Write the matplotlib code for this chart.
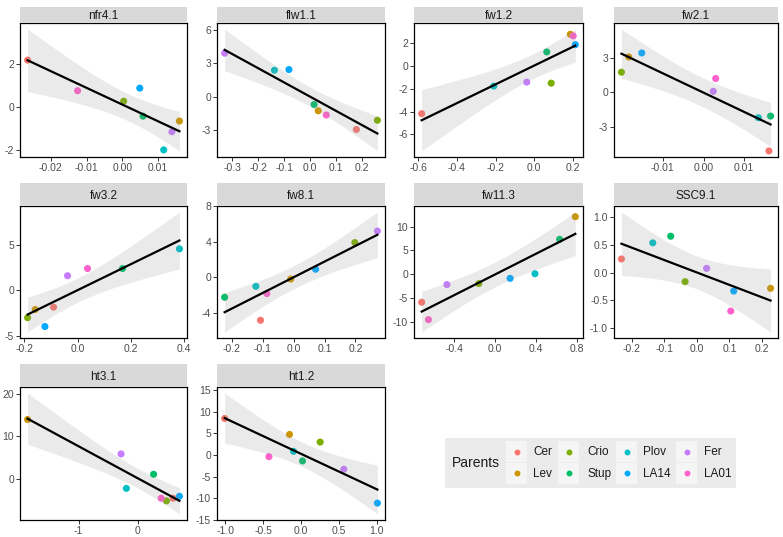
import numpy as np
import matplotlib
matplotlib.use('Agg')
import matplotlib.pyplot as plt

plt.rcParams['font.family'] = ['Liberation Sans', 'DejaVu Sans']

# ---------------------------------------------------------------- data
parents = ['Cer', 'Lev', 'Crio', 'Stup', 'Plov', 'LA14', 'Fer', 'LA01']
colors = ['#F8766D', '#CD9600', '#7CAE00', '#00BE67',
          '#00BFC4', '#00A9FF', '#C77CFF', '#FF61CC']

# values in the order of `parents`
nfr41_x = [-0.0265, 0.0160, 0.0004, 0.0058, 0.0116, 0.0049, 0.0139, -0.0125]
nfr41_y = [2.20, -0.65, 0.28, -0.42, -2.00, 0.89, -1.15, 0.77]

flw11_x = [0.178, 0.031, 0.259, 0.015, -0.138, -0.082, -0.330, 0.062]
flw11_y = [-2.95, -1.27, -2.12, -0.71, 2.36, 2.42, 3.89, -1.65]

fw12_x = [-0.583, 0.188, 0.089, 0.066, -0.209, 0.214, -0.038, 0.203]
fw12_y = [-4.18, 2.79, -1.50, 1.24, -1.76, 1.88, -1.41, 2.65]

fw21_x = [0.0161, -0.0184, -0.0202, 0.0165, 0.0135, -0.0152, 0.0024, 0.0030]
fw21_y = [-5.10, 3.10, 1.77, -2.06, -2.20, 3.45, 0.10, 1.22]

fw32_x = [-0.090, -0.159, -0.1875, 0.169, 0.3825, -0.1225, -0.0375, 0.0375]
fw32_y = [-1.85, -2.11, -3.02, 2.44, 4.62, -4.00, 1.64, 2.44]

fw81_x = [-0.1075, -0.0097, 0.198, -0.2237, -0.1226, 0.071, 0.271, -0.087]
fw81_y = [-4.87, -0.22, 3.90, -2.27, -1.04, 0.89, 5.20, -1.86]

fw113_x = [-0.717, 0.786, -0.158, 0.632, 0.391, 0.148, -0.470, -0.651]
fw113_y = [-5.82, 12.05, -1.92, 7.33, 0.14, -0.82, -2.12, -9.45]

ssc91_x = [-0.231, 0.226, -0.036, -0.080, -0.135, 0.113, 0.030, 0.104]
ssc91_y = [0.25, -0.28, -0.16, 0.66, 0.54, -0.33, 0.08, -0.69]

ht31_x = [0.601, -1.865, 0.489, 0.270, -0.191, 0.708, -0.281, 0.399]
ht31_y = [-4.67, 14.00, -5.29, 1.01, -2.33, -4.20, 5.84, -4.67]

ht12_x = [-1.011, -0.154, 0.251, 0.018, -0.101, 1.007, 0.563, -0.426]
ht12_y = [8.42, 4.74, 2.98, -1.38, 0.84, -11.10, -3.29, -0.38]

# name, x, y, x ticks, x decimals, y ticks, y decimals
panels = [
    ('nfr4.1', nfr41_x, nfr41_y, [-0.02, -0.01, 0.0, 0.01], 2, [-2, 0, 2], 0),
    ('flw1.1', flw11_x, flw11_y, [-0.3, -0.2, -0.1, 0.0, 0.1, 0.2], 1, [-3, 0, 3, 6], 0),
    ('fw1.2', fw12_x, fw12_y, [-0.6, -0.4, -0.2, 0.0, 0.2], 1, [-6, -4, -2, 0, 2], 0),
    ('fw2.1', fw21_x, fw21_y, [-0.01, 0.0, 0.01], 2, [-3, 0, 3], 0),
    ('fw3.2', fw32_x, fw32_y, [-0.2, 0.0, 0.2, 0.4], 1, [-5, 0, 5], 0),
    ('fw8.1', fw81_x, fw81_y, [-0.2, -0.1, 0.0, 0.1, 0.2], 1, [-4, 0, 4, 8], 0),
    ('fw11.3', fw113_x, fw113_y, [-0.4, 0.0, 0.4, 0.8], 1, [-10, -5, 0, 5, 10], 0),
    ('SSC9.1', ssc91_x, ssc91_y, [-0.2, -0.1, 0.0, 0.1, 0.2], 1, [-1.0, -0.5, 0.0, 0.5, 1.0], 1),
    ('ht3.1', ht31_x, ht31_y, [-1, 0], 0, [0, 10, 20], 0),
    ('ht1.2', ht12_x, ht12_y, [-1.0, -0.5, 0.0, 0.5, 1.0], 1, [-15, -10, -5, 0, 5, 10, 15], 0),
]

# ---------------------------------------------------------------- layout (pixels)
W, H = 783, 537
col_x = [(20, 187), (217, 385), (414, 583), (614, 778)]
row_y = [(23, 157), (206, 338), (387, 520)]
strip_h = [16, 23, 23]

T975 = 2.4469  # t quantile, df = 6


def fmt(v, d):
    s = '{:.{}f}'.format(v, d)
    if s.startswith('-') and float(s) == 0:
        s = s[1:]
    return s


def px_axes(fig, x0, x1, y0, y1):
    return fig.add_axes([x0 / W, 1 - y1 / H, (x1 - x0) / W, (y1 - y0) / H])


fig = plt.figure(figsize=(W / 100, H / 100), dpi=100)

for i, (name, xs, ys, xt, xd, yt, yd) in enumerate(panels):
    r, c = divmod(i, 4)
    x0, x1 = col_x[c]
    y0, y1 = row_y[r]
    ax = px_axes(fig, x0, x1, y0, y1)
    st = px_axes(fig, x0, x1, y0 - strip_h[r], y0)

    x = np.array(xs)
    y = np.array(ys)
    n = len(x)
    b, a = np.polyfit(x, y, 1)
    res = y - (a + b * x)
    s = np.sqrt(np.sum(res ** 2) / (n - 2))
    sxx = np.sum((x - x.mean()) ** 2)
    xx = np.linspace(x.min(), x.max(), 80)
    yy = a + b * xx
    se = s * np.sqrt(1 / n + (xx - x.mean()) ** 2 / sxx)
    lo, hi = yy - T975 * se, yy + T975 * se

    ax.scatter(x, y, c=colors, s=26, linewidths=0, zorder=2)
    ax.fill_between(xx, lo, hi, color='#999999', alpha=0.2, linewidth=0, zorder=3)
    ax.plot(xx, yy, color='black', lw=1.6, zorder=4)

    xr = x.max() - x.min()
    ax.set_xlim(x.min() - 0.05 * xr, x.max() + 0.05 * xr)
    ymin = min(y.min(), lo.min())
    ymax = max(y.max(), hi.max())
    yr = ymax - ymin
    ax.set_ylim(ymin - 0.05 * yr, ymax + 0.05 * yr)

    ax.set_xticks(xt)
    ax.set_xticklabels([fmt(v, xd) for v in xt])
    ax.set_yticks(yt)
    ax.set_yticklabels([fmt(v, yd) for v in yt])
    ax.tick_params(labelsize=7.5, labelcolor='#4D4D4D', color='#333333',
                   length=2.8, width=0.7, pad=1.5)
    for sp in ax.spines.values():
        sp.set_color('black')
        sp.set_linewidth(0.9)

    st.set_facecolor('#D9D9D9')
    st.set_xticks([])
    st.set_yticks([])
    for sp in st.spines.values():
        sp.set_visible(False)
    st.text(0.5, 0.45, name, ha='center', va='center', fontsize=8.5,
            color='#1A1A1A', transform=st.transAxes)

# ---------------------------------------------------------------- legend
lg = px_axes(fig, 445, 736, 438, 488)
lg.set_xlim(445, 736)
lg.set_ylim(488, 438)
lg.set_facecolor('#EBEBEB')
lg.set_xticks([])
lg.set_yticks([])
for sp in lg.spines.values():
    sp.set_visible(False)
lg.text(452, 463, 'Parents', ha='left', va='center', fontsize=10, color='#1A1A1A')
key_left = [506, 558, 616, 676]
label_left = [533, 587, 643, 704]
for i, (p, col) in enumerate(zip(parents, colors)):
    cc, rr = divmod(i, 2)
    ky = 441 + rr * 21.5
    lg.add_patch(plt.Rectangle((key_left[cc], ky), 21, 21, facecolor='#F5F5F5',
                               edgecolor='none'))
    lg.scatter([key_left[cc] + 10.5], [ky + 10.5], c=[col], s=18, linewidths=0)
    lg.text(label_left[cc], ky + 11, p, ha='left', va='center', fontsize=8.5,
            color='#1A1A1A')

fig.savefig('out.png', dpi=100)
